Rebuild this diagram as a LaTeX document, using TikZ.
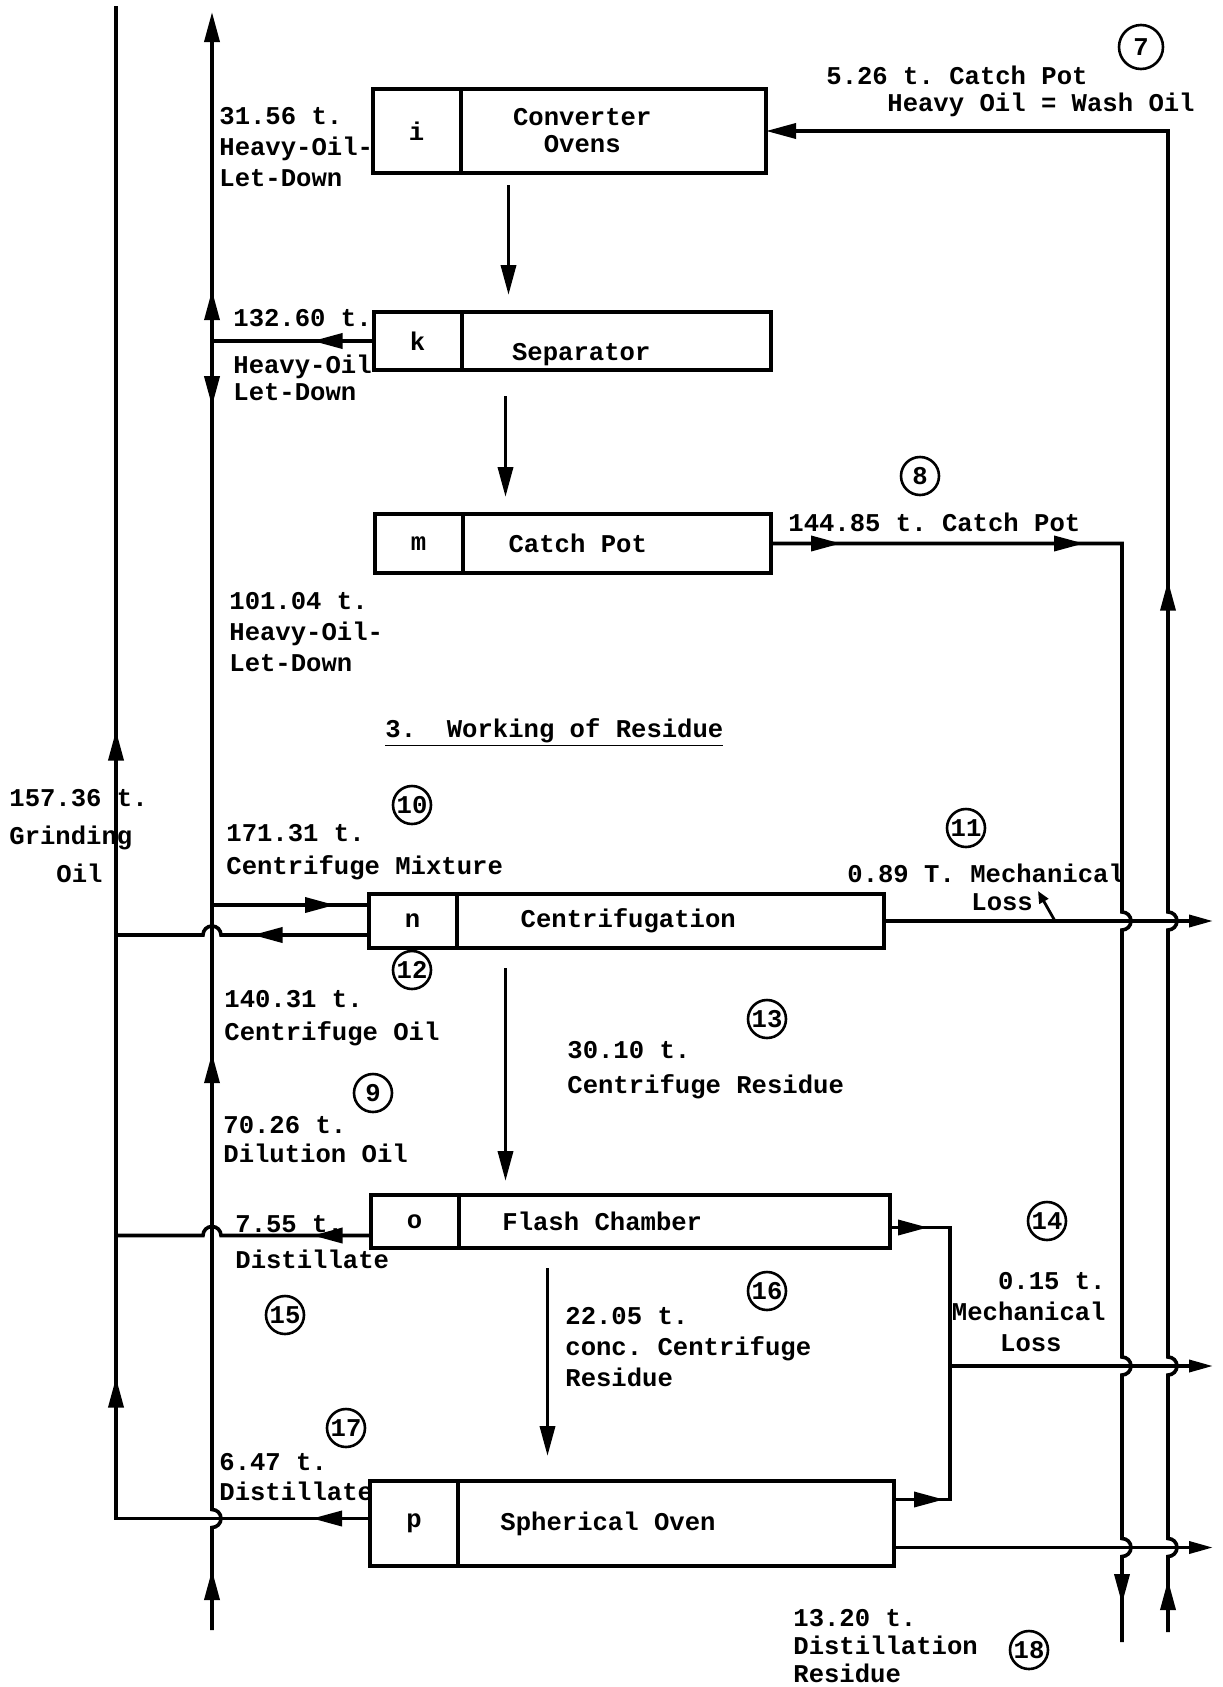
\documentclass[tikz,border=0pt]{standalone}
\usepackage{fontspec}
\setmonofont{Liberation Mono}
\usetikzlibrary{positioning,arrows.meta,decorations.markings,calc}

\begin{document}
\begin{tikzpicture}[x=0.5pt,y=-0.5pt, >={Triangle[length=15pt,width=7.5pt]},
  font=\ttfamily\bfseries\fontsize{12.8pt}{15.5pt}\selectfont,
  cell/.style={draw,line width=2pt,outer sep=0pt,inner sep=0pt,minimum width=44pt,minimum height=#1},
  line/.style={line width=1.8pt},
  fw/.style={postaction={decorate,decoration={markings,mark=at position #1 with {\arrow{>}}}}},
  bw/.style={postaction={decorate,decoration={markings,mark=at position #1 with {\arrowreversed{>}}}}},
  lbl/.style={align=left,anchor=base west,inner sep=0pt},
  num/.style={draw,circle,line width=1.3pt,inner sep=0pt,minimum size=19pt},
  outtip/.style={-{Triangle[length=12pt,width=6pt]}}]
\useasboundingbox (0,0) rectangle (1222,1687);

% process units
\node[cell=42pt] (i) at (416.5,131) {i};
\node[cell=42pt,minimum width=152.75pt,right=0pt of i,
  label={[align=center,xshift=-15.5pt]center:{Converter\\[-2pt]Ovens}}] (ovens) {};
\node[cell=29pt] (k) at (417.5,341) {k};
\node[cell=29pt,minimum width=154.75pt,right=0pt of k,
  label={[xshift=-17.5pt,yshift=-7pt]center:Separator}] (sep) {};
\node[cell=29.5pt] (m) at (418.5,543.5) {m};
\node[cell=29.5pt,minimum width=154.25pt,right=0pt of m,
  label={[xshift=-19.5pt]center:Catch Pot}] (cat) {};
\node[cell=27pt] (n) at (412.5,921) {n};
\node[cell=27pt,minimum width=213.75pt,right=0pt of n,
  label={[xshift=-21pt]center:Centrifugation}] (cen) {};
\node[cell=26.5pt] (o) at (414.5,1221.5) {o};
\node[cell=26.5pt,minimum width=215.75pt,right=0pt of o,
  label={[xshift=-36pt]center:Flash Chamber}] (fla) {};
\node[cell=42.5pt] (p) at (414,1523.5) {p};
\node[cell=42.5pt,minimum width=218pt,right=0pt of p,
  label={[xshift=-34pt]center:Spherical Oven}] (sph) {};

% line ends and branch points
\coordinate (gtop) at (116,6);
\coordinate (ltop) at (212,12);
\coordinate (lbot) at (212,1630);
\coordinate (wbot) at (1168,1632);
\coordinate (cbot) at (1122,1642);
\coordinate (out) at (1213,0);
\coordinate (jmid) at (950,1366);
\coordinate (nin) at ([yshift=8pt]n.west);
\coordinate (nout) at ([yshift=-7pt]n.west);
\coordinate (oout) at ([yshift=-7pt]o.west);
\coordinate (pout) at ([yshift=2.5pt]p.west);
\coordinate (oright) at ([yshift=-3pt]fla.east);
\coordinate (pup) at ([yshift=12pt]sph.east);
\coordinate (pdown) at ([yshift=-12pt]sph.east);
\coordinate (lossfoot) at ($(cen.east)+(85.5pt,0)$);

% main run downwards
\draw[line,->,shorten <=6pt,shorten >=8.5pt] ([xshift=24pt]ovens.south west) -- ([xshift=24pt]ovens.south west |- sep.north);
\draw[line,->,shorten <=13pt,shorten >=8.5pt] ([xshift=22pt]sep.south west) -- ([xshift=22pt]sep.south west |- cat.north);
\draw[line,->,shorten <=10pt,shorten >=7pt] ([xshift=24.5pt]cen.south west) -- ([xshift=24.5pt]cen.south west |- fla.north);
\draw[line,->,shorten <=10pt,shorten >=12.5pt] ([xshift=44.5pt]fla.south west) -- ([xshift=44.5pt]fla.south west |- sph.north);

% left side
\draw[line,fw=30.5pt] (k.west) -- (k.west -| ltop);
\draw[line,->,fw=30pt,fw=293.5pt,bw=617pt,fw=675pt] (lbot) -- ($(lbot |- pout)+(0,-4.5pt)$)
  arc[start angle=-90,end angle=90,radius=4.5pt] -- (ltop);
\draw[line,fw=61.5pt] (nin -| ltop) -- (nin);
\draw[line,fw=58pt] (nout) -- ($(nout -| ltop)+(4.5pt,0)$)
  arc[start angle=0,end angle=180,radius=4.5pt] -- (nout -| gtop);
\draw[line,fw=29pt] (oout) -- ($(oout -| ltop)+(4.5pt,0)$)
  arc[start angle=0,end angle=180,radius=4.5pt] -- (oout -| gtop);
\draw[line,fw=29pt,fw=197.5pt,fw=521pt] (pout) -- (pout -| gtop) -- (gtop);

% right side
\draw[line,outtip] (cen.east) -- (cen.east -| out);
\draw[line,fw=19pt] (oright) -- (oright -| jmid) -- (jmid);
\draw[line,fw=25pt] (pup) -- (pup -| jmid) -- (jmid);
\draw[line,outtip] (jmid) -- (jmid -| out);
\draw[line,outtip] (pdown) -- (pdown -| out);
\draw[line,fw=35pt,fw=156.5pt,fw=-19pt] (cat.east) -- (cat.east -| cbot)
  -- ($(cbot |- cen.east)+(0,4.5pt)$) arc[start angle=90,end angle=-90,radius=4.5pt]
  -- ($(cbot |- jmid)+(0,4.5pt)$) arc[start angle=90,end angle=-90,radius=4.5pt]
  -- ($(cbot |- pdown)+(0,4.5pt)$) arc[start angle=90,end angle=-90,radius=4.5pt] -- (cbot);
\draw[line,->,fw=26pt,fw=541pt] (wbot)
  -- ($(wbot |- pdown)+(0,-4.5pt)$) arc[start angle=-90,end angle=90,radius=4.5pt]
  -- ($(wbot |- jmid)+(0,-4.5pt)$) arc[start angle=-90,end angle=90,radius=4.5pt]
  -- ($(wbot |- cen.east)+(0,-4.5pt)$) arc[start angle=-90,end angle=90,radius=4.5pt]
  -- (wbot |- ovens.east) -- (ovens.east);
\draw[line width=1.4pt,-{Triangle[length=6pt,width=5pt]}] (lossfoot) -- ++(-8.5pt,15pt);

% quantities (base = last line)
\node[lbl] (ld1) at (219,186) {31.56 t.\\Heavy-Oil-\\Let-Down};
\node[lbl] (ld2) at (233,400) {132.60 t.\\[8pt]Heavy-Oil\\[-2pt]Let-Down};
\node[lbl] (wash) at (826,111) {5.26 t. Catch Pot\\[-2pt]\hspace*{30.5pt}Heavy Oil = Wash Oil};
\node[lbl] (cpot) at (788,531) {144.85 t. Catch Pot};
\node[lbl] (ld3) at (229,671) {101.04 t.\\Heavy-Oil-\\Let-Down};
\node[lbl] (title) at (385,737) {\underline{3.\ \ Working of Residue}};
\node[lbl] (grind) at (9,882) {157.36 t.\\[3.5pt]Grinding\\[3.5pt]\hspace*{23.5pt}Oil};
\node[lbl] (mix) at (226,874) {171.31 t.\\[1pt]Centrifuge Mixture};
\node[lbl] (loss1) at (847,910) {0.89 T. Mechanical\\[-1.5pt]\hspace*{62pt}Loss};
\node[lbl] (coil) at (224,1040) {140.31 t.\\[1pt]Centrifuge Oil};
\node[lbl] (cres) at (567,1093) {30.10 t.\\[2pt]Centrifuge Residue};
\node[lbl] (dil) at (223,1162) {70.26 t.\\[-1pt]Dilution Oil};
\node[lbl] (dist1) at (235,1268) {7.55 t.\\[2.5pt]Distillate};
\node[align=right,anchor=base east,inner sep=0pt] (loss2) at (1106,1351) {0.15 t.\\Mechanical\\Loss\hspace*{22pt}};
\node[lbl] (conc) at (565,1386) {22.05 t.\\conc. Centrifuge\\Residue};
\node[lbl] (dist2) at (219,1500) {6.47 t.\\[-0.5pt]Distillate};
\node[lbl] (dres) at (793,1682) {13.20 t.\\[-1.5pt]Distillation\\[-1.5pt]Residue};

% stream numbers
\node[num,minimum size=22pt] (s7) at (1141,47) {7};
\node[num] (s8) at (920,476) {8};
\node[num] (s9) at (373,1093) {9};
\node[num] (s10) at (412,805) {10};
\node[num] (s11) at (966,828) {11};
\node[num] (s12) at (412,970) {12};
\node[num] (s13) at (767,1019) {13};
\node[num] (s14) at (1047,1221) {14};
\node[num] (s15) at (285,1315) {15};
\node[num] (s16) at (767,1291) {16};
\node[num] (s17) at (346,1428) {17};
\node[num] (s18) at (1029,1650) {18};
\end{tikzpicture}
\end{document}
